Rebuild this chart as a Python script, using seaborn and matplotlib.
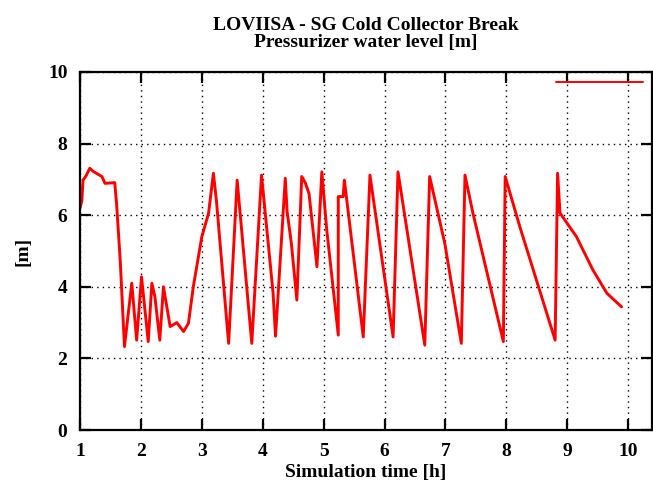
import matplotlib
matplotlib.use("Agg")
import matplotlib.pyplot as plt
from matplotlib.lines import Line2D
import seaborn as sns
import pandas as pd

time_h = [1.00, 1.03, 1.05, 1.10, 1.16, 1.22, 1.27, 1.36, 1.41, 1.50, 1.57, 1.60, 1.66, 1.73,
          1.85, 1.93, 2.01, 2.12, 2.18, 2.23, 2.31, 2.37, 2.48, 2.59, 2.70, 2.78, 2.86, 3.00,
          3.11, 3.19, 3.24, 3.44, 3.58, 3.82, 3.98, 4.17, 4.21, 4.37, 4.40, 4.47, 4.56, 4.64,
          4.70, 4.76, 4.89, 4.97, 5.05, 5.24, 5.24, 5.32, 5.34, 5.65, 5.76, 6.14, 6.22, 6.66,
          6.74, 6.99, 7.26, 7.32, 7.45, 7.95, 7.98, 8.22, 8.80, 8.84, 8.88, 9.15, 9.42, 9.65,
          9.89]
level_m = [6.20, 6.40, 6.98, 7.10, 7.31, 7.22, 7.17, 7.08, 6.89, 6.90, 6.91, 6.33, 4.75, 2.33,
           4.10, 2.51, 4.28, 2.47, 4.10, 3.72, 2.51, 4.00, 2.89, 3.00, 2.75, 2.98, 4.00, 5.40,
           6.05, 7.17, 6.40, 2.42, 6.98, 2.42, 7.12, 3.82, 2.62, 7.03, 6.10, 5.21, 3.63, 7.08,
           6.90, 6.60, 4.56, 7.21, 5.60, 2.65, 6.52, 6.52, 6.98, 2.60, 7.12, 2.60, 7.21, 2.37,
           7.08, 5.20, 2.42, 7.12, 6.06, 2.47, 7.08, 5.68, 2.51, 7.17, 6.06, 5.40, 4.47, 3.82,
           3.44]

title_lines = ["LOVIISA - SG Cold Collector Break", "Pressurizer water level [m]"]
x_label = "Simulation time [h]"
y_label = "[m]"
x_ticks = [1, 2, 3, 4, 5, 6, 7, 8, 9, 10]
y_ticks = [0, 2, 4, 6, 8, 10]

df = pd.DataFrame({"t": time_h, "h": level_m})

sns.set_theme(style="ticks")
plt.rcParams["font.family"] = ["Liberation Serif", "DejaVu Serif"]
plt.rcParams["font.weight"] = "bold"

fig = plt.figure(figsize=(6.53, 4.94), dpi=100)
ax = fig.add_axes([80 / 653, 1 - 430 / 494, (652 - 80) / 653, (430 - 72) / 494])

sns.lineplot(data=df, x="t", y="h", ax=ax, color="#ff0000", linewidth=2.1,
             sort=False, estimator=None)

ax.set_xlim(1, 10.39)
ax.set_ylim(0, 10)
ax.set_xticks(x_ticks)
ax.set_yticks(y_ticks)
ax.grid(True, color="black", linestyle=(0, (1, 3)), linewidth=1.0)
for s in ax.spines.values():
    s.set_color("black")
    s.set_linewidth(1.6)
ax.tick_params(direction="in", length=8, width=1.6, top=True, right=True,
               labelsize=14, colors="black", pad=9)
ax.set_xlabel(x_label, fontsize=14, fontweight="bold", color="black", labelpad=3)
ax.set_ylabel(y_label, fontsize=14, fontweight="bold", color="black", labelpad=12)
ax.set_title("\n".join(title_lines), fontsize=14, fontweight="bold", color="black",
             pad=18, linespacing=1.0)

key = Line2D([], [], color="#ff0000", linewidth=1.4)
ax.legend(handles=[key], labels=[""], loc="center right",
          bbox_to_anchor=((643 - 80) / 572, (430 - 84) / 358),
          frameon=False, handlelength=4.5, handletextpad=0, borderpad=0,
          borderaxespad=0, fontsize=14)

fig.savefig("out.png", dpi=100)
